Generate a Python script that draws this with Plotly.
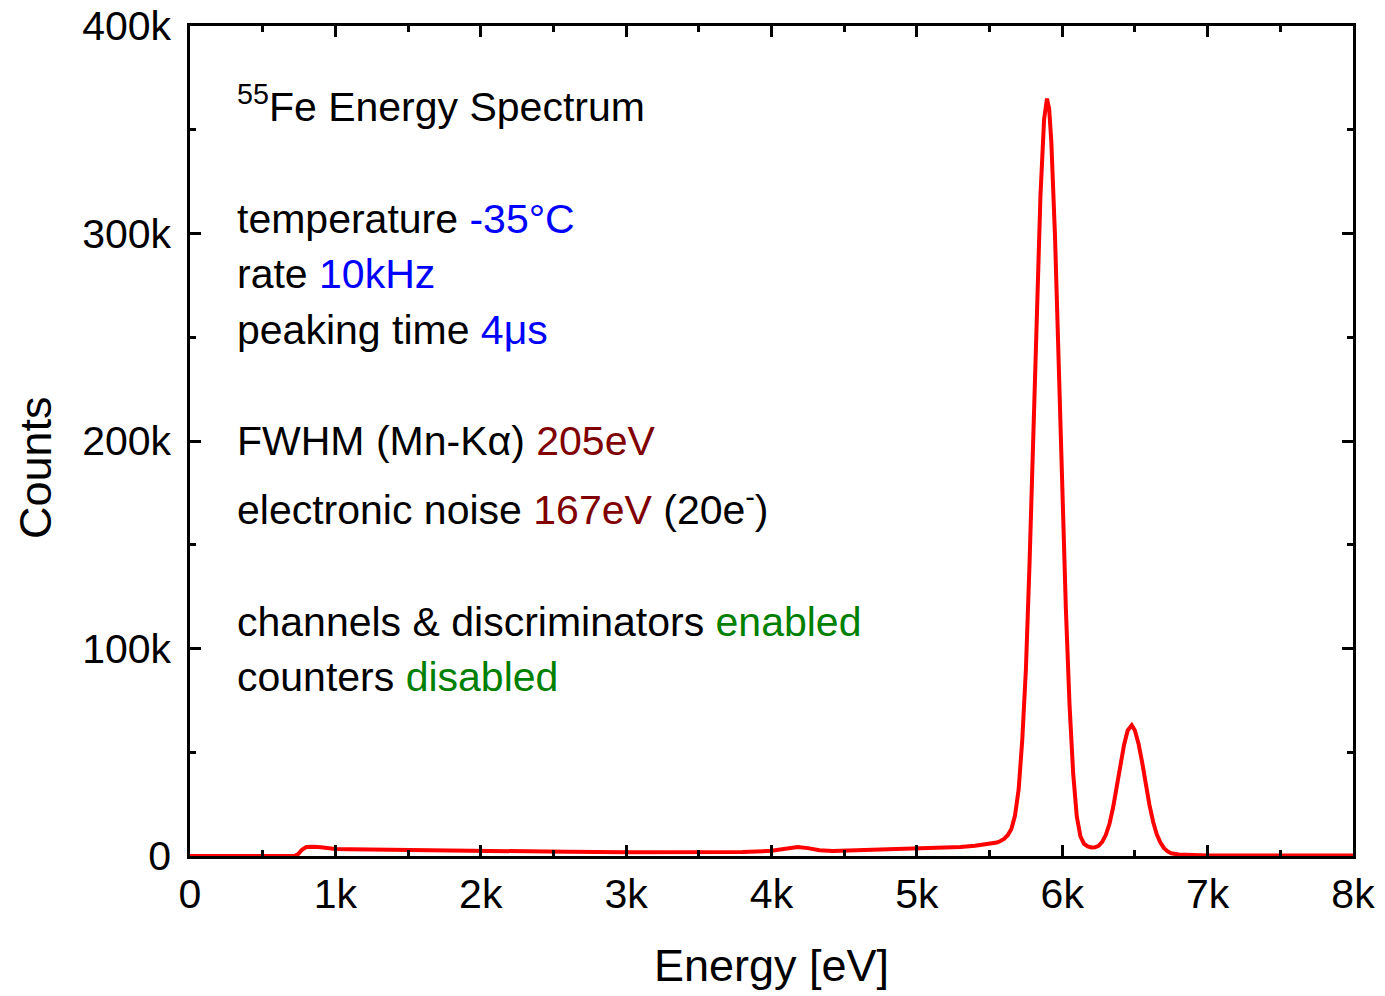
import plotly.graph_objects as go

# Energy [eV] and counts
energy = [0, 500, 720, 745, 770, 800, 850, 900, 1000, 1100, 1200, 1300, 1400, 1500, 1700,
          2000, 2300, 2600, 3000, 3400, 3800, 4000, 4100, 4180, 4250, 4330, 4420, 4600,
          4800, 5000, 5200, 5300, 5400, 5450, 5500, 5550, 5575, 5600, 5625, 5650, 5675,
          5700, 5725, 5750, 5775, 5800, 5825, 5850, 5875, 5895, 5910, 5925, 5950, 5975,
          6000, 6025, 6050, 6075, 6100, 6125, 6150, 6175, 6200, 6225, 6250, 6275, 6300,
          6325, 6350, 6375, 6400, 6425, 6450, 6478, 6500, 6525, 6550, 6575, 6600, 6625,
          6650, 6675, 6700, 6725, 6750, 6800, 6900, 7000, 7500, 8000]
counts = [0, 0, 0, 1000, 3000, 4300, 4500, 4200, 3400, 3300, 3200, 3300, 3000, 2800, 2600,
          2400, 2200, 2000, 1800, 1800, 1900, 2500, 3600, 4300, 3800, 2800, 2400, 2700,
          3000, 3400, 3900, 4300, 4900, 5300, 5800, 6500, 7200, 8200, 10000, 13000, 19500,
          32000, 56000, 90000, 141000, 199000, 262000, 318000, 355000, 365000, 360000, 344000, 299000, 239000,
          176000, 119000, 73000, 40000, 19000, 9500, 5800, 4600, 4100, 4200, 4900, 6800, 10200,
          15500, 23500, 33500, 44000, 53500, 60500, 63000, 60500, 54000, 45000, 34500, 24500, 16500,
          10500, 6500, 3800, 2200, 1300, 700, 400, 300, 200, 200]

x_ticks = [0, 1000, 2000, 3000, 4000, 5000, 6000, 7000, 8000]
x_labels = ["0", "1k", "2k", "3k", "4k", "5k", "6k", "7k", "8k"]
y_ticks = [0, 100000, 200000, 300000, 400000]
y_labels = ["0", "100k", "200k", "300k", "400k"]

# annotation lines: (pixel-centre y in the page, html text)
info_lines = [
    (104, "<sup>55</sup>Fe Energy Spectrum"),
    (219, "temperature <span style='color:#0000FF'>-35°C</span>"),
    (274, "rate <span style='color:#0000FF'>10kHz</span>"),
    (330, "peaking time <span style='color:#0000FF'>4μs</span>"),
    (441, "FWHM (Mn-Kα) <span style='color:#800000'>205eV</span>"),
    (507, "electronic noise <span style='color:#800000'>167eV</span> (20e<sup>-</sup>)"),
    (622, "channels &amp; discriminators <span style='color:#008000'>enabled</span>"),
    (677, "counters <span style='color:#008000'>disabled</span>"),
]

FONT = "Liberation Sans, Arial, sans-serif"
OFF = 8  # page body margin
W, H = 1385 - OFF, 996 - OFF
PL, PR, PT, PB = 190, 1353, 26, 856  # plot area in page pixels
L, T = PL - OFF, PT - OFF
R = W - (PR - OFF)
B = H - (PB - OFF)
plot_h = PB - PT
plot_w = PR - PL

fig = go.Figure()
fig.add_trace(go.Scatter(x=energy, y=counts, mode="lines",
                         line=dict(color="#FF0000", width=4), showlegend=False))

for py, txt in info_lines:
    fig.add_annotation(xref="paper", yref="paper", x=(235 - PL) / plot_w,
                       y=(PB - py) / plot_h, xanchor="left", yanchor="middle",
                       text=txt, showarrow=False,
                       font=dict(family=FONT, size=41, color="black"))

# y-axis title (placed slightly below the plot centre, as in the reference)
fig.add_annotation(xref="paper", yref="paper", x=(35 - PL) / plot_w, y=(PB - 468) / plot_h,
                   xanchor="center", yanchor="middle", textangle=-90, showarrow=False,
                   text="Counts", font=dict(family=FONT, size=45, color="black"))

axis_common = dict(showline=True, linecolor="black", linewidth=2.5, mirror="ticks",
                   ticks="inside", ticklen=11, tickwidth=2.5, tickcolor="black",
                   showgrid=False, zeroline=False, ticklabeloverflow="allow",
                   automargin=False,
                   tickfont=dict(family=FONT, size=41, color="black"))

fig.update_xaxes(range=[0, 8000], tickvals=x_ticks, ticktext=x_labels,
                 title=dict(text="Energy [eV]", font=dict(family=FONT, size=45, color="black"),
                            standoff=34),
                 minor=dict(ticks="inside", ticklen=6, tickwidth=2.5, tickcolor="black", dtick=500,
                            showgrid=False),
                 **axis_common)
fig.update_yaxes(range=[0, 400000], tickvals=y_ticks, ticktext=y_labels,
                 ticklabelstandoff=8,
                 minor=dict(ticks="inside", ticklen=6, tickwidth=2.5, tickcolor="black", dtick=50000,
                            showgrid=False),
                 **axis_common)

fig.update_layout(width=W, height=H, margin=dict(l=L, r=R, t=T, b=B),
                  paper_bgcolor="white", plot_bgcolor="white",
                  font=dict(family=FONT, color="black"))

fig.write_html("out.html")
